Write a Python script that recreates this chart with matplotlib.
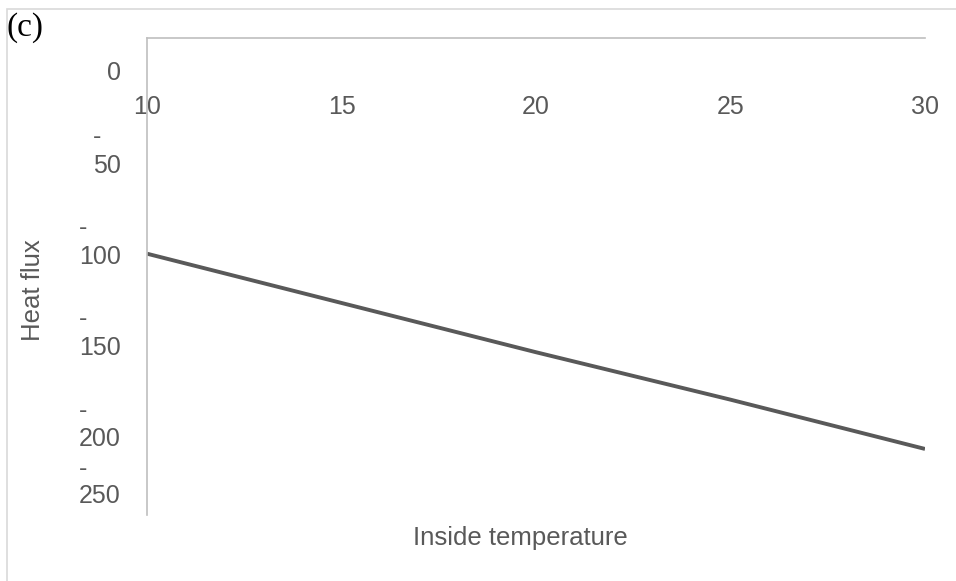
import matplotlib.pyplot as plt
import matplotlib.transforms as mtransforms
from matplotlib.patches import Rectangle

plt.rcParams['font.family'] = ['Liberation Sans', 'DejaVu Sans']

# heat flux through the wall vs inside temperature
inside_temp = [10, 15, 20, 25, 30]
heat_flux = [-99, -126, -153, -179, -206]

x_ticks = [10, 15, 20, 25, 30]
y_ticks = [0, -50, -100, -150, -200]
y_ticklabels = ['0', '-\n50', '-\n100', '-\n150', '-\n200']
# bottom label is squeezed up against the end of the axis
last_label_y = -231
last_label = '-\n250'

grey = '#595959'
axis_grey = '#bfbfbf'

W, H = 956, 581
fig = plt.figure(figsize=(W / 100, H / 100), dpi=100)
ax = fig.add_axes([147 / W, 1 - 515 / H, (925 - 147) / W, (515 - 38) / H])

ax.plot(inside_temp, heat_flux, color=grey, lw=2.8, solid_capstyle='butt')

ax.set_xlim(10, 30)
ax.set_ylim(-242.2, 19.2)

for side in ['bottom', 'right']:
    ax.spines[side].set_visible(False)
for side in ['top', 'left']:
    ax.spines[side].set_color(axis_grey)
    ax.spines[side].set_linewidth(1.2)

ax.xaxis.tick_top()
ax.set_xticks(x_ticks, [str(t) for t in x_ticks])
ax.set_yticks(y_ticks, y_ticklabels)
ax.tick_params(axis='x', length=0, pad=-58, labelsize=18, labelcolor=grey)
ax.tick_params(axis='y', length=0, pad=18.7, labelsize=18, labelcolor=grey)

# two-line labels: keep the number (second line) level with its tick
shift = mtransforms.ScaledTranslation(0, 13 / 100, fig.dpi_scale_trans)
for lab in ax.get_yticklabels():
    lab.set_linespacing(1.26)
    lab.set_multialignment('left')
    lab.set_verticalalignment('center')
    if '\n' in lab.get_text():
        lab.set_transform(lab.get_transform() + shift)

left_off = mtransforms.ScaledTranslation(-26 / 100, 12 / 100, fig.dpi_scale_trans)
ax.text(0, last_label_y, last_label, transform=ax.get_yaxis_transform() + left_off,
        ha='right', va='center', multialignment='left', linespacing=1.2,
        fontsize=18, color=grey)

ax.set_ylabel('Heat flux', fontsize=18.5, color=grey, va='center')
ax.yaxis.set_label_coords((33 - 147) / 778, (515 - 290) / 477)
ax.set_xlabel('Inside temperature', fontsize=18.5, color=grey, va='center')
ax.xaxis.set_label_coords((520 - 147) / 778, (515 - 538) / 477)

fig.text(7 / W, 1 - 12 / H, '(c)', ha='left', va='top', fontsize=24,
         family=['Liberation Serif', 'DejaVu Serif'], color='black')

# chart-area frame
fig.add_artist(Rectangle((7 / W, -0.05), 1.2, 1 - 9 / H + 0.05,
                         transform=fig.transFigure, fill=False,
                         ec='#d9d9d9', lw=1.2))

fig.savefig('out.png', dpi=100)
